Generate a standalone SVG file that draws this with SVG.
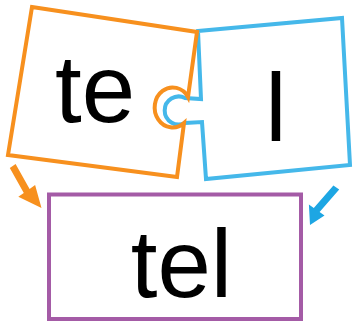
<svg xmlns="http://www.w3.org/2000/svg" width="354" height="323" viewBox="0 0 354 323">
<style>
.txt{font-family:"Liberation Sans",Arial,sans-serif;font-size:96px;fill:#000;text-anchor:middle}
.piece{fill:#fff;stroke-width:4;stroke-linejoin:miter}
.orange{stroke:#F7901E}
.blue{stroke:#45B8EA}
.word{fill:#fff;stroke:#A45BA6;stroke-width:4}
</style>
<rect width="354" height="323" fill="#fff"/>
<g id="piece-l">
<path class="piece blue" d="M198,31 L342,18 L350,165 L206,179 L202,122 L185,123 A14 14 0 1 1 185,98 L201,99 Z"/>
<text class="txt" x="276" y="141">l</text>
</g>
<g id="piece-te">
<path class="piece orange" d="M32,7 L197,32 L188,97 A18 20 0 1 0 184,123 L177,177 L8,155 Z"/>
<text class="txt" x="95" y="122">te</text>
</g>
<g id="word-tel">
<rect class="word" x="49" y="194.5" width="252" height="124.5"/>
<text class="txt" x="181.5" y="297">tel</text>
</g>
<g id="connectors">
<polygon fill="#F7901E" points="15.6,164 29.6,188.9 35.1,185.1 41.5,208 18.3,196.7 23.8,192.9 9.8,168"/>
<polygon fill="#1DA6E3" points="333.4,185.5 313.8,208 308.9,204.5 310,225 324.5,215.5 319.6,212 339.2,189.5"/>
</g>
</svg>
